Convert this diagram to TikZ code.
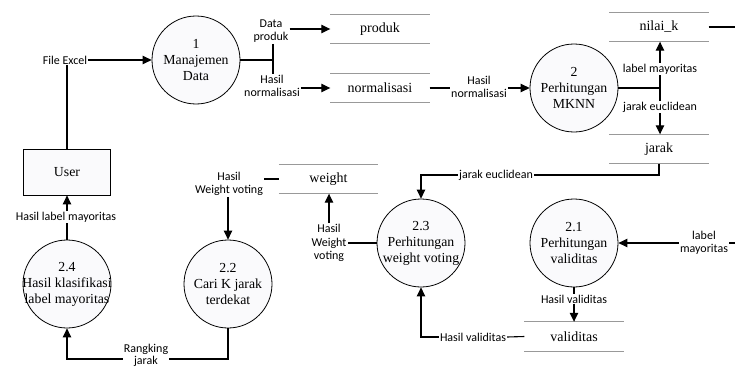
\documentclass[tikz,border=0pt]{standalone}
\usepackage{fontspec}
\setmainfont{Liberation Serif}
\newfontfamily\procfont{Liberation Serif}
\newfontfamily\lblfont{Carlito}
\usetikzlibrary{arrows.meta,calc}

\begin{document}
\begin{tikzpicture}[x=1pt,y=-1pt,
  proc/.style={circle, draw, line width=0.8pt, minimum size=88pt, inner sep=0pt,
    fill={rgb,255:red,250;green,250;blue,252}},
  ptext/.style={align=center, inner sep=0pt, font=\procfont\fontsize{13.8}{16}\selectfont},
  entity/.style={draw, line width=0.8pt, minimum width=87pt, minimum height=46pt,
    inner sep=0pt, font=\procfont\fontsize{13.8}{16}\selectfont,
    fill={rgb,255:red,250;green,250;blue,252}},
  store/.style={minimum width=99pt, minimum height=29pt, inner sep=0pt,
    font=\procfont\fontsize{14}{16}\selectfont},
  storeline/.style={draw=black!40, line width=0.8pt},
  lbl/.style={align=center, inner sep=1pt, font=\lblfont\fontsize{12}{13.5}\selectfont},
  conn/.style={line width=1.1pt},
  flow/.style={conn, -{Triangle[length=9pt,width=8.5pt]}}
]
\useasboundingbox (0,0) rectangle (735,369);

% processes
\node[proc] (c1)  at (196,60)  {};
\node[proc] (c2)  at (574,88)  {};
\node[proc] (c23) at (421,243) {};
\node[proc] (c21) at (574,243) {};
\node[proc] (c22) at (228,284) {};
\node[proc] (c24) at (67,284)  {};
\node[ptext] at (c1)  {1\\Manajemen\\Data};
\node[ptext] at (c2)  {2\\Perhitungan\\MKNN};
\node[ptext] at (c23) {2.3\\Perhitungan\\weight voting};
\node[ptext] at (c21) {2.1\\Perhitungan\\validitas};
\node[ptext] at (c22) {2.2\\Cari K jarak\\terdekat};
\node[ptext] at (c24) {2.4\\Hasil klasifikasi\\label mayoritas};

% external entity
\node[entity] (user) at (67,172) {User};

% data stores
\node[store] (produk) at (380,29)    {produk};
\node[store] (norm)   at (380,88)    {normalisasi};
\node[store] (nilaik) at (659,27)    {nilai\_k};
\node[store] (jarak)  at (659,149)   {jarak};
\node[store] (weight) at (328.5,179) {weight};
\node[store] (valid)  at (574,336.5) {validitas};
\foreach \s in {produk,norm,nilaik,jarak,weight,valid}
  \draw[storeline] (\s.north west) -- (\s.north east)
                   (\s.south west) -- (\s.south east);

% flow labels
\node[lbl] (lFE)   at (65,60)    {File Excel};
\node[lbl] (lDP)   at (271,31)   {Data\\produk};
\node[lbl] (lHN1)  at (272,86)   {Hasil\\normalisasi};
\node[lbl] (lHN2)  at (479,87)   {Hasil\\normalisasi};
\node[lbl] (lLM1)  at (660,69)   {label mayoritas};
\node[lbl] (lJE1)  at (660,107)  {jarak euclidean};
\node[lbl] (lJE2)  at (496,175)  {jarak euclidean};
\node[lbl] (lHWV1) at (329,243)  {Hasil\\Weight\\voting};
\node[lbl] (lHWV2) at (229,184)  {Hasil\\Weight voting};
\node[lbl] (lLM2)  at (704,243)  {label\\mayoritas};
\node[lbl] (lHV1)  at (574,299)  {Hasil validitas};
\node[lbl] (lHV2)  at (473,337)  {Hasil validitas};
\node[lbl, font=\lblfont\fontsize{12}{12}\selectfont] (lRJ) at (146,355) {Rangking\\jarak};
\node[lbl] (lHLM)  at (66,217)   {Hasil label mayoritas};

% junctions and open ends
\coordinate (j1) at (273,60);
\coordinate (j2) at (660,88);
\coordinate (nkout) at (735,27);
\coordinate (lmout) at (735,243);
\coordinate (rjline) at (146,359);

% flows
\draw[flow] (lFE.east) -- (c1.west);
\draw[conn] (user.north) -- (user.north |- lFE.south);

\draw[conn] (c1.east) -- (j1);
\draw[conn] (lDP.south -| j1) -- (lHN1.north -| j1);
\draw[flow] (lDP.east |- produk) -- (produk.west);
\draw[flow] (lHN1.east |- norm) -- (norm.west);

\draw[conn] (norm.east) -- (lHN2.west |- norm);
\draw[flow] (lHN2.east |- c2) -- (c2.west);

\draw[conn] (c2.east) -- (j2);
\draw[conn] (lLM1.south -| j2) -- (lJE1.north -| j2);
\draw[flow] (lLM1.north) -- (lLM1.north |- nilaik.south);
\draw[flow] (lJE1.south) -- (lJE1.south |- jarak.north);
\draw[conn] (nilaik.east) -- (nkout);

\draw[conn] (jarak.south) -- (jarak.south |- lJE2) -- (lJE2.east);
\draw[flow] (lJE2.west) -- (lJE2.west -| c23) -- (c23.north);

\draw[conn] (c23.west) -- (lHWV1.east |- c23);
\draw[flow] (lHWV1.north) -- (lHWV1.north |- weight.south);

\draw[conn] (weight.west) -- (weight.west -| lHWV2.east);
\draw[flow] (lHWV2.south -| c22) -- (c22.north);

\draw[conn] (c22.south) -- (c22.south |- rjline) -- (rjline -| lRJ.east);
\draw[flow] (rjline -| lRJ.west) -- (rjline -| c24) -- (c24.south);

\draw[conn] (c24.north) -- (lHLM.south -| c24);
\draw[flow] (lHLM.north -| user) -- (user.south);

\draw[conn] (lmout) -- (lLM2.east);
\draw[flow] (lLM2.west) -- (c21.east);

\draw[conn] (c21.south) -- (lHV1.north);
\draw[flow] (lHV1.south) -- (valid.north);

\draw[conn] (valid.west) -- (lHV2.east);
\draw[flow] (lHV2.west) -- (lHV2.west -| c23) -- (c23.south);
\end{tikzpicture}
\end{document}
